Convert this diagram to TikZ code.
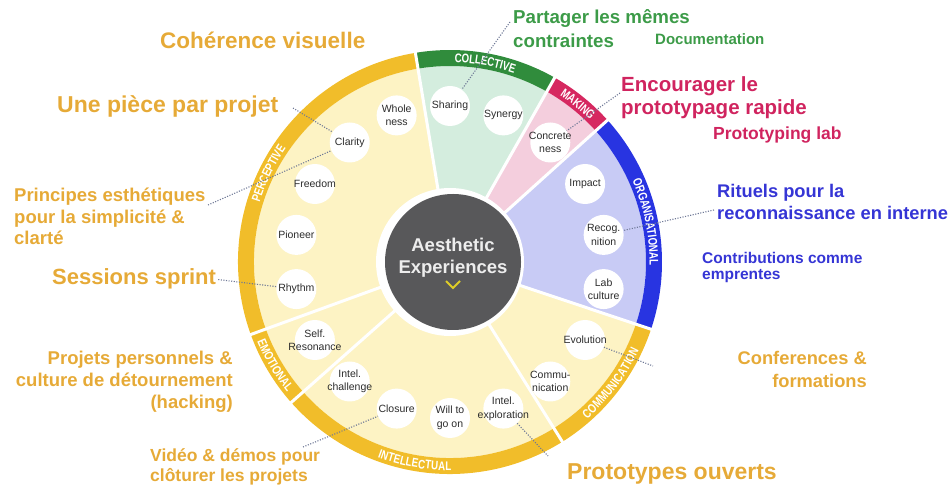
\documentclass[tikz,border=0pt]{standalone}
\usepackage{fontspec}
\setmainfont{Liberation Sans}
\newfontfamily\bandfont[FakeStretch=0.78]{Liberation Sans}
\usepackage{tikz}
\usetikzlibrary{decorations.text}
\definecolor{goldtext}{RGB}{230,170,55}
\definecolor{greentext}{RGB}{60,155,72}
\definecolor{redtext}{RGB}{208,36,95}
\definecolor{bluetext}{RGB}{53,53,213}
\definecolor{softyellow}{RGB}{253,243,196}
\definecolor{bandyellow}{RGB}{241,189,42}
\definecolor{softgreen}{RGB}{212,237,222}
\definecolor{bandgreen}{RGB}{48,140,60}
\definecolor{softpink}{RGB}{244,206,221}
\definecolor{bandpink}{RGB}{214,40,96}
\definecolor{softblue}{RGB}{200,203,245}
\definecolor{bandblue}{RGB}{40,52,225}
\definecolor{coregray}{RGB}{88,88,90}
\definecolor{dotgray}{RGB}{110,120,150}
\definecolor{bubbleink}{RGB}{45,45,45}
\newcommand{\txtsize}[2]{\fontsize{#1}{#2}\selectfont}
\tikzset{
  bubble/.style={circle, fill=white, minimum size=40pt, inner sep=0pt,
    label={[bubbletext]center:{#1}}},
  bubbletext/.style={font=\txtsize{10.5}{13.5}, text=bubbleink, align=center, inner sep=0pt},
  separator/.style={white, line width=3pt},
  bandtext/.style={
    decorate,
    decoration={
      text along path,
      text={|\bandfont\bfseries\txtsize{12.5}{12.5}|#1},
      text color=white,
      text align=center,
      raise=-4.5pt
    }
  },
  dots/.style={draw=dotgray, line width=1.1pt, dash pattern=on 1.1pt off 1.5pt},
  gold/.style={text=goldtext, inner sep=0pt},
  green/.style={text=greentext, inner sep=0pt},
  crimson/.style={text=redtext, inner sep=0pt},
  blue/.style={text=bluetext, inner sep=0pt}
}

\begin{document}
\begin{tikzpicture}[x=1pt, y=1pt]
  \useasboundingbox (0,0) rectangle (952,489);

  \begin{scope}[shift={(450,227)}]
    % Segment fills
    \fill[softyellow] (0,0) -- (99.4:196) arc[start angle=99.4, end angle=341.5, radius=196] -- cycle;
    \fill[softblue] (0,0) -- (-18.5:196) arc[start angle=-18.5, end angle=42, radius=196] -- cycle;
    \fill[softpink] (0,0) -- (42:196) arc[start angle=42, end angle=60.4, radius=196] -- cycle;
    \fill[softgreen] (0,0) -- (60.4:196) arc[start angle=60.4, end angle=99.4, radius=196] -- cycle;

    % Outer bands
    \fill[bandyellow] (99.4:212) arc[start angle=99.4, end angle=341.5, radius=212]
      -- (341.5:196) arc[start angle=341.5, end angle=99.4, radius=196] -- cycle;
    \fill[bandblue] (-18.5:212) arc[start angle=-18.5, end angle=42, radius=212]
      -- (42:196) arc[start angle=42, end angle=-18.5, radius=196] -- cycle;
    \fill[bandpink] (42:212) arc[start angle=42, end angle=60.4, radius=212]
      -- (60.4:196) arc[start angle=60.4, end angle=42, radius=196] -- cycle;
    \fill[bandgreen] (60.4:212) arc[start angle=60.4, end angle=99.4, radius=212]
      -- (99.4:196) arc[start angle=99.4, end angle=60.4, radius=196] -- cycle;

    % White separators between segments
    \draw[separator] (0,0) -- (99.4:213);
    \draw[separator] (0,0) -- (60.4:213);
    \draw[separator] (0,0) -- (42:213);
    \draw[separator] (0,0) -- (-18.5:213);
    \draw[separator] (0,0) -- (-58:213);
    \draw[separator] (0,0) -- (221.5:213);
    \draw[separator] (0,0) -- (200:213);

    % Core
    \fill[white] (0,0) circle (74);
    \node[circle, fill=coregray, minimum size=136pt, inner sep=0pt] (core) at (3,0) {};
    \node[text=white!93!black, font=\bfseries\txtsize{18.5}{22}, align=center, inner sep=0pt]
      (coretitle) at (3,3.8) {Aesthetic\\Experiences};
    \draw[draw={rgb,255:red,222;green,205;blue,40}, line width=2pt] (-4,-19) -- (3,-26) -- (10,-19);

    % Bubbles
    \node[bubble=Sharing] (sharing) at (90:156) {};
    \node[bubble=Synergy] (synergy) at (70:156) {};
    \node[bubble={Concrete\\ness}] (concreteness) at (50:156) {};
    \node[bubble=Impact] (impact) at (30:156) {};
    \node[bubble={Recog.\\nition}] (recognition) at (10:156) {};
    \node[bubble={Lab\\culture}] (labculture) at (-10:156) {};
    \node[bubble=Evolution] (evolution) at (-30:156) {};
    \node[bubble={Commu-\\nication}] (communication) at (-50:156) {};
    \node[bubble={Intel.\\exploration}] (intelexploration) at (-70:156) {};
    \node[bubble={Will to\\go on}] (willtogoon) at (-90:156) {};
    \node[bubble=Closure] (closure) at (-110:156) {};
    \node[bubble={Intel.\\challenge}] (intelchallenge) at (-130:156) {};
    \node[bubble={Self.\\Resonance}] (selfresonance) at (-150:156) {};
    \node[bubble=Rhythm] (rhythm) at (-170:156) {};
    \node[bubble=Pioneer] (pioneer) at (170:156) {};
    \node[bubble=Freedom] (freedom) at (150:156) {};
    \node[bubble=Clarity] (clarity) at (130:156) {};
    \node[bubble={Whole\\ness}] (wholeness) at (110:156) {};

    % Band labels
    \path[bandtext=PERCEPTIVE] (180:204) arc[start angle=180, end angle=128, radius=204];
    \path[bandtext=COLLECTIVE] (105:204) arc[start angle=105, end angle=55, radius=204];
    \path[bandtext=MAKING] (75:204) arc[start angle=75, end angle=27, radius=204];
    \path[bandtext=ORGANISATIONAL] (40:204) arc[start angle=40, end angle=-17, radius=204];
    \path[bandtext=COMMUNICATION] (-65:204) arc[start angle=-65, end angle=-9, radius=204];
    \path[bandtext=INTELLECTUAL] (230:204) arc[start angle=230, end angle=290, radius=204];
    \path[bandtext=EMOTIONAL] (185:204) arc[start angle=185, end angle=236, radius=204];
  \end{scope}

  % Outer texts (multi-line nodes sit on the baseline of their last line)
  \node[gold, anchor=base west, font=\bfseries\txtsize{22.5}{27}] (cohesion) at (160,440) {Cohérence visuelle};
  \node[gold, anchor=base west, font=\bfseries\txtsize{23}{27}] (onepiece) at (57,376) {Une pièce par projet};
  \node[gold, anchor=base west, align=left, font=\bfseries\txtsize{18.5}{21.5}] (principles) at (14,244)
    {Principes esthétiques\\pour la simplicité \&\\clarté};
  \node[gold, anchor=base west, font=\bfseries\txtsize{22}{26}] (sprint) at (52,204) {Sessions sprint};
  \node[gold, anchor=base east, align=right, font=\bfseries\txtsize{18.5}{22}] (personal) at (233,80)
    {Projets personnels \&\\culture de détournement\\(hacking)};
  \node[gold, anchor=base west, align=left, font=\bfseries\txtsize{17.5}{20.5}] (videodemos) at (150,7)
    {Vidéo \& démos pour\\clôturer les projets};
  \node[gold, anchor=base west, font=\bfseries\txtsize{23}{27}] (openproto) at (567,9) {Prototypes ouverts};
  \node[gold, anchor=base east, align=right, font=\bfseries\txtsize{18.3}{23}] (conferences) at (867,101)
    {Conferences \&\\formations};
  \node[green, anchor=base west, align=left, font=\bfseries\txtsize{18.7}{24}] (shared) at (513,441)
    {Partager les mêmes\\contraintes};
  \node[green, anchor=base west, font=\bfseries\txtsize{15}{18}] (documentation) at (655,444) {Documentation};
  \node[crimson, anchor=base west, align=left, font=\bfseries\txtsize{20.5}{23}] (encourage) at (621,374)
    {Encourager le\\prototypage rapide};
  \node[crimson, anchor=base west, font=\bfseries\txtsize{17.5}{21}] (protolab) at (713,349) {Prototyping lab};
  \node[blue, anchor=base west, align=left, font=\bfseries\txtsize{18.3}{22}] (rituals) at (717,269)
    {Rituels pour la\\reconnaissance en interne};
  \node[blue, anchor=base west, align=left, font=\bfseries\txtsize{15.5}{16}] (contributions) at (702,209)
    {Contributions comme\\emprentes};

  % Dotted leaders
  \coordinate (piecedot) at (293,381);
  \coordinate (principledot) at (208,284);
  \coordinate (videodot) at (303,42);
  \coordinate (protodot) at (548,33);
  \coordinate (confdot) at (653,123);
  \coordinate (ritualdot) at (714,279);
  \coordinate (encouragedot) at (620,396);
  \coordinate (shareddot) at (510,467);
  \draw[dots] (piecedot) -- (clarity);
  \draw[dots] (principledot) -- (clarity);
  \draw[dots, shorten <=2pt] (sprint.east) -- (rhythm);
  \draw[dots] (videodot) -- (closure);
  \draw[dots] (intelexploration) -- (protodot);
  \draw[dots] (evolution) -- (confdot);
  \draw[dots] (ritualdot) -- (recognition);
  \draw[dots] (encouragedot) -- (concreteness);
  \draw[dots] (shareddot) -- (sharing);

\end{tikzpicture}
\end{document}
